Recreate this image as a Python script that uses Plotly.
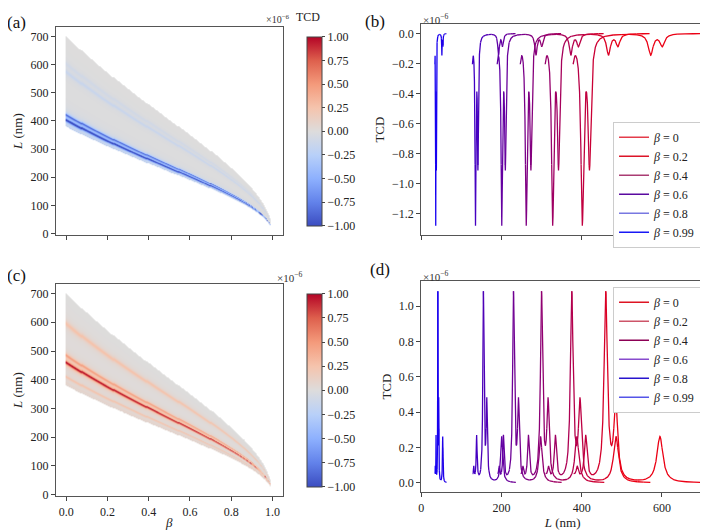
import numpy as np
import plotly.graph_objects as go

# ---------------- data ----------------
betas = [0, 0.2, 0.4, 0.6, 0.8, 0.99]
beta_labels = ["0", "0.2", "0.4", "0.6", "0.8", "0.99"]
# L-scale of each curve relative to beta = 0 (from resonance positions)
scale_factors = [1.0, 0.816, 0.652, 0.5, 0.337, 0.09]
L_rest_start = 380.0
L_rest_end = 700.0

# beta = 0 resonances of panel (b): centre (nm), amplitude (x1e-6), half width (nm)
neg_centres = [372, 403, 421, 574, 603]
neg_amps = [-0.55, -1.22, -0.84, -0.14, -0.08]
neg_widths = [5.0, 4.3, 4.3, 7.0, 7.0]

# beta = 0 resonances of panel (d)
pos_centres = [368, 389, 410, 460, 485, 595]
pos_amps = [0.06, 0.06, 0.25, 1.06, 0.44, 0.26]
pos_widths = [15.0, 3.0, 4.0, 5.0, 5.5, 9.0]

legend_colors_b = ["rgb(228,60,75)", "rgb(220,20,40)", "rgb(170,60,115)",
                   "rgb(90,10,160)", "rgb(120,120,225)", "rgb(25,25,245)"]
legend_colors_d = ["rgb(222,20,35)", "rgb(205,85,105)", "rgb(140,0,85)",
                   "rgb(135,75,205)", "rgb(40,20,205)", "rgb(85,85,232)"]

cb_ticks = [-1.0, -0.75, -0.5, -0.25, 0.0, 0.25, 0.5, 0.75, 1.0]
y_ticks_L = [0, 100, 200, 300, 400, 500, 600, 700]
beta_ticks = [0.0, 0.2, 0.4, 0.6, 0.8, 1.0]
L_ticks = [0, 200, 400, 600]

FONT = "Liberation Serif, Times New Roman, serif"

# page body has an 8 px margin: figure is 700x522 placed at (8, 8)
W, H, OFF = 700, 522, 8


def px(X):
    return (X - OFF) / W


def py(Y):
    return 1 - (Y - OFF) / H


def spectrum(L0, centres, amps, widths):
    s = np.zeros_like(L0, dtype=float)
    for c, a, w in zip(centres, amps, widths):
        s += a / (1.0 + ((L0 - c) / w) ** 2)
    return s


def seg_color(L):
    t = min(max((L - 30.0) / 470.0, 0.0), 1.0)
    return "rgb(%d,%d,%d)" % (int(20 + 215 * t), 0, int(245 - 225 * t))


coolwarm = [
    [0.0, "rgb(59,76,192)"], [0.125, "rgb(98,130,234)"], [0.25, "rgb(141,176,254)"],
    [0.375, "rgb(184,208,249)"], [0.5, "rgb(221,220,220)"], [0.625, "rgb(245,196,173)"],
    [0.75, "rgb(244,154,123)"], [0.875, "rgb(222,96,77)"], [1.0, "rgb(180,4,38)"],
]

fig = go.Figure()

# ---------------- heatmaps (a) and (c) ----------------
beta_grid = np.concatenate([np.linspace(0.0, 0.8, 161), np.linspace(0.8, 0.99, 191)[1:]])
L_grid = np.concatenate([np.arange(15.0, 150.0, 0.2), np.arange(150.0, 715.0, 0.5)])
BB, LL = np.meshgrid(beta_grid, L_grid)
ff = np.sqrt((1 - BB) / (1 + BB))
L0 = LL / ff
inside = (L0 >= L_rest_start) & (L0 <= L_rest_end)


def field(centres, amps, widths):
    z = spectrum(L0, centres, amps, widths)
    z = np.where(inside, np.round(z, 3), np.nan)
    return z


def cbar(Ytop, Ybot):
    return dict(x=px(295), xanchor="left", y=py(Ytop), yanchor="top", len=(Ybot - Ytop) / H,
                lenmode="fraction", thickness=15, outlinewidth=1, outlinecolor="#444",
                tickvals=cb_ticks, tickformat=".2f", ticks="outside", ticklen=3,
                tickcolor="#444", tickfont=dict(family=FONT, size=12, color="#222"))


fig.add_trace(go.Heatmap(x=beta_grid, y=L_grid, z=field(neg_centres, neg_amps, neg_widths),
                         colorscale=coolwarm, zmin=-1, zmax=1, xaxis="x", yaxis="y",
                         colorbar=cbar(27, 238), hoverinfo="skip"))
fig.add_trace(go.Heatmap(x=beta_grid, y=L_grid, z=field(pos_centres, pos_amps, pos_widths),
                         colorscale=coolwarm, zmin=-1, zmax=1, xaxis="x3", yaxis="y3",
                         colorbar=cbar(287, 502), hoverinfo="skip"))

# ---------------- spectra (b) and (d) ----------------
L0_line = np.linspace(L_rest_start, L_rest_end, 3201)
spec_neg = spectrum(L0_line, neg_centres, neg_amps, neg_widths)
spec_pos = spectrum(L0_line, pos_centres, pos_amps, pos_widths)

for spec, xa, ya in [(spec_neg, "x2", "y2"), (spec_pos, "x4", "y4")]:
    for f in scale_factors:
        Lx = L0_line * f
        n = len(Lx)
        step = 200
        for i0 in range(0, n - 1, step):
            i1 = min(i0 + step + 1, n)
            mid = Lx[(i0 + i1) // 2]
            fig.add_trace(go.Scatter(x=Lx[i0:i1], y=spec[i0:i1], mode="lines",
                                     line=dict(color=seg_color(mid), width=1.3),
                                     xaxis=xa, yaxis=ya, showlegend=False, hoverinfo="skip"))

for lab, c in zip(beta_labels, legend_colors_b):
    fig.add_trace(go.Scatter(x=[None], y=[None], mode="lines", line=dict(color=c, width=1.6),
                             name="<i>β</i> = " + lab, xaxis="x2", yaxis="y2", legend="legend"))
for lab, c in zip(beta_labels, legend_colors_d):
    fig.add_trace(go.Scatter(x=[None], y=[None], mode="lines", line=dict(color=c, width=1.6),
                             name="<i>β</i> = " + lab, xaxis="x4", yaxis="y4", legend="legend2"))

# ---------------- layout ----------------
tickfont = dict(family=FONT, size=12, color="#222")
axbase = dict(showline=True, mirror=True, linecolor="#555", linewidth=1, ticks="outside",
              ticklen=4, tickcolor="#444", showgrid=False, zeroline=False, tickfont=tickfont)
titlefont = dict(family=FONT, size=13, color="#222")


def ax(**kw):
    d = dict(axbase)
    d.update(kw)
    return d


fig.update_layout(
    width=W, height=H, margin=dict(l=0, r=0, t=0, b=0),
    paper_bgcolor="white", plot_bgcolor="white",
    font=dict(family=FONT, size=12, color="#222"),
    xaxis=ax(domain=[px(53), px(281)], range=[-0.05, 1.05], tickvals=beta_ticks,
             showticklabels=False, anchor="y"),
    yaxis=ax(domain=[py(238), py(27)], range=[-6, 734], tickvals=y_ticks_L,
             anchor="x", title=dict(text="<i>L</i> (nm)", font=titlefont, standoff=4)),
    xaxis2=ax(domain=[px(420), px(703)], range=[0, 705], tickvals=L_ticks,
              showticklabels=False, anchor="y2"),
    yaxis2=ax(domain=[py(238), py(24)], range=[-1.344, 0.064],
              tickvals=[0, -0.2, -0.4, -0.6, -0.8, -1.0, -1.2], tickformat=".1f",
              anchor="x2", title=dict(text="TCD", font=titlefont, standoff=4)),
    xaxis3=ax(domain=[px(53), px(281)], range=[-0.05, 1.05], tickvals=beta_ticks,
              tickformat=".1f", anchor="y3",
              title=dict(text="<i>β</i>", font=titlefont, standoff=2)),
    yaxis3=ax(domain=[py(502), py(287)], range=[-6, 734], tickvals=y_ticks_L,
              anchor="x3", title=dict(text="<i>L</i> (nm)", font=titlefont, standoff=4)),
    xaxis4=ax(domain=[px(420), px(704)], range=[0, 705], tickvals=L_ticks, anchor="y4",
              title=dict(text="<i>L</i> (nm)", font=titlefont, standoff=2)),
    yaxis4=ax(domain=[py(498), py(284)], range=[-0.054, 1.144],
              tickvals=[0, 0.2, 0.4, 0.6, 0.8, 1.0], tickformat=".1f", anchor="x4",
              title=dict(text="TCD", font=titlefont, standoff=4)),
    legend=dict(x=px(701), y=py(123), xanchor="right", yanchor="top",
                bgcolor="white", bordercolor="#ccc", borderwidth=1,
                font=dict(family=FONT, size=12, color="#222"), tracegroupgap=0),
    legend2=dict(x=px(701), y=py(290), xanchor="right", yanchor="top",
                 bgcolor="white", bordercolor="#ccc", borderwidth=1,
                 font=dict(family=FONT, size=12, color="#222"), tracegroupgap=0),
)

ann = []
for txt, X, Y in [("(a)", 2, 23), ("(b)", 362, 22), ("(c)", 2, 279), ("(d)", 367, 273)]:
    ann.append(dict(text=txt, x=px(X), y=py(Y), xref="paper", yref="paper",
                    xanchor="left", yanchor="middle", showarrow=False,
                    font=dict(family=FONT, size=17, color="#111")))
for X, Y in [(420, 19), (420, 279), (273, 280)]:
    ann.append(dict(text="×10<sup>−6</sup>", x=px(X), y=py(Y), xref="paper",
                    yref="paper", xanchor="left", yanchor="middle", showarrow=False,
                    font=dict(family=FONT, size=11, color="#333")))
ann.append(dict(text="×10<sup>−6</sup>", x=px(290), y=py(27.5), xref="paper",
                yref="paper", xanchor="right", yanchor="bottom", showarrow=False,
                font=dict(family=FONT, size=10, color="#333")))
ann.append(dict(text="TCD", x=px(306), y=py(8), xref="paper", yref="paper",
                xanchor="center", yanchor="top", showarrow=False,
                font=dict(family=FONT, size=12, color="#222")))
fig.update_layout(annotations=ann)

fig.write_html("out.html")
